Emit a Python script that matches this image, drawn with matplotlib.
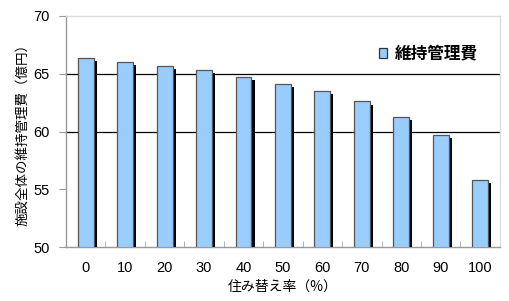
import matplotlib
matplotlib.use("Agg")
import matplotlib.pyplot as plt
import matplotlib.patheffects as pe
import numpy as np

plt.rcParams['font.family'] = ['Noto Sans CJK JP', 'DejaVu Sans']

categories = ['0', '10', '20', '30', '40', '50', '60', '70', '80', '90', '100']
values = [66.4, 66.05, 65.7, 65.3, 64.7, 64.15, 63.5, 62.6, 61.3, 59.7, 55.8]
series_name = '維持管理費'
y_ticks = [50, 55, 60, 65, 70]
grid_values = [60, 65]

fig = plt.figure(figsize=(5.09, 3.01), dpi=100)
ax = fig.add_axes([0.1297, 0.179, 0.8523, 0.768])

x = np.arange(len(categories))
for g in grid_values:
    ax.axhline(g, color='black', lw=0.9, zorder=1)

bars = ax.bar(x, values, width=0.4, bottom=0, color='#99CCFF', edgecolor='#555555',
              linewidth=0.9, label=series_name, zorder=3)
for b in bars:
    b.set_path_effects([pe.SimplePatchShadow(offset=(2.3, -2.3), shadow_rgbFace='black', alpha=1.0),
                        pe.Normal()])

ax.set_xlim(-0.5, len(categories) - 0.5)
ax.set_ylim(50, 70)
ax.set_yticks(y_ticks)
ax.set_yticklabels([str(v) for v in y_ticks], family=['Liberation Sans', 'DejaVu Sans'], fontsize=10.5)
ax.set_xticks(x)
ax.set_xticklabels(categories, family=['Liberation Sans', 'DejaVu Sans'], fontsize=10.5)
ax.set_xticks(np.arange(-0.5, len(categories), 1.0), minor=True)
ax.tick_params(axis='x', which='major', length=0, pad=10)
ax.tick_params(axis='x', which='minor', direction='in', length=4, color='#aaaaaa')
ax.tick_params(axis='y', which='major', direction='out', length=5, color='#999999', pad=7)

for s in ['top', 'right']:
    ax.spines[s].set_color('#dddddd')
for s in ['left', 'bottom']:
    ax.spines[s].set_color('#999999')
for s in ax.spines.values():
    s.set_linewidth(1.0)

ax.set_ylabel('施設全体の維持管理費（億円）', fontsize=9.7, labelpad=3)
ax.set_xlabel('住み替え率（%）', fontsize=10, labelpad=3)

leg = ax.legend(loc='upper right', bbox_to_anchor=(0.985, 0.94), frameon=False,
                fontsize=12, handlelength=0.5, handleheight=0.5, handletextpad=0.48)
for t in leg.get_texts():
    t.set_fontweight('bold')
for h in leg.legend_handles:
    h.set_path_effects([])
    h.set_edgecolor('#333333')

fig.savefig('out.png', dpi=100)
